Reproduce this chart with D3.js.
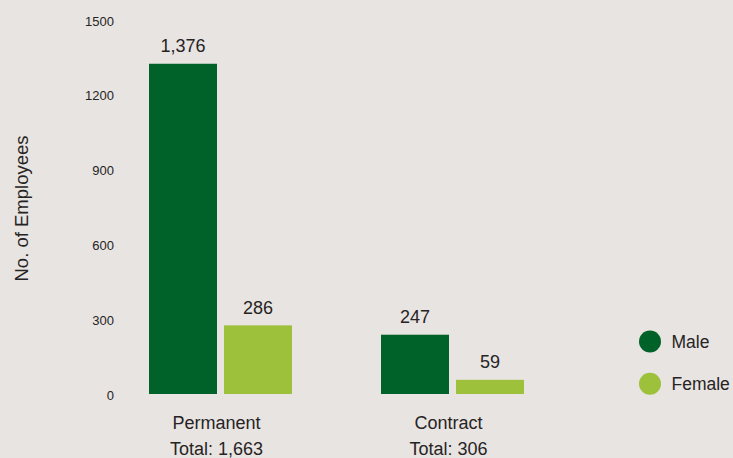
<!DOCTYPE html>
<html>
<head>
<meta charset="utf-8">
<script src="https://cdn.jsdelivr.net/npm/d3@7"></script>
<style>
  html, body { margin: 0; padding: 0; background: #e8e4e1; }
  svg { display: block; }
  text { font-family: "Liberation Sans", Arial, sans-serif; fill: #262324; }
</style>
</head>
<body>
<svg id="chart" width="733" height="458"></svg>
<script>
// Employees by type of employment and gender
const categories = ["Permanent", "Contract"];
const totals = ["1,663", "306"];
const genders = ["Male", "Female"];
const male = [1376, 247];
const female = [286, 59];
const yTicks = [0, 300, 600, 900, 1200, 1500];
const colors = ["#006229", "#9dc13b"];

const svg = d3.select("#chart");
const fmt = d3.format(",");

// Category bands and the bars inside each band
const x0 = d3.scaleBand().domain(categories).range([149, 524]).paddingInner(89 / 232);
const x1 = d3.scaleBand().domain(genders).range([0, x0.bandwidth()]).paddingInner(7 / 75);

// Bar heights and the axis labels
const yBar = d3.scaleLinear().domain([0, 1500]).range([394, 34]);
const yAxis = d3.scaleLinear().domain([0, 1500]).range([395, 21]);
const color = d3.scaleOrdinal().domain(genders).range(colors);

const rows = categories.map((c, i) => ({
  category: c,
  total: totals[i],
  values: [{ g: "Male", v: male[i] }, { g: "Female", v: female[i] }]
}));

// Y axis: labels only
const ax = svg.append("g")
  .attr("transform", "translate(114,0)")
  .call(d3.axisLeft(yAxis).tickValues(yTicks).tickSize(0).tickPadding(0).tickFormat(d3.format("d")));
ax.select(".domain").remove();
ax.selectAll("text")
  .style("font-family", "'Liberation Sans', Arial, sans-serif")
  .style("font-size", "13px")
  .attr("fill", "#262324");

svg.append("text")
  .attr("transform", "translate(28,208.5) rotate(-90)")
  .attr("text-anchor", "middle")
  .style("font-size", "18.5px")
  .text("No. of Employees");

// Bars
const groups = svg.selectAll("g.group").data(rows).join("g")
  .attr("class", "group")
  .attr("transform", d => `translate(${x0(d.category)},0)`);

groups.selectAll("rect").data(d => d.values).join("rect")
  .attr("x", d => x1(d.g))
  .attr("width", x1.bandwidth())
  .attr("y", d => yBar(d.v))
  .attr("height", d => yBar(0) - yBar(d.v))
  .attr("fill", d => color(d.g));

groups.selectAll("text.val").data(d => d.values).join("text")
  .attr("class", "val")
  .attr("x", d => x1(d.g) + x1.bandwidth() / 2)
  .attr("y", d => yBar(d.v) - 11.7)
  .attr("text-anchor", "middle")
  .style("font-size", "18px")
  .text(d => fmt(d.v));

// Category labels with totals
groups.append("text")
  .attr("x", x0.bandwidth() / 2 - 4)
  .attr("y", 428.5)
  .attr("text-anchor", "middle")
  .style("font-size", "18px")
  .text(d => d.category);

groups.append("text")
  .attr("x", x0.bandwidth() / 2 - 4)
  .attr("y", 455)
  .attr("text-anchor", "middle")
  .style("font-size", "18px")
  .text(d => "Total: " + d.total);

// Legend
const legend = svg.selectAll("g.legend").data(genders).join("g")
  .attr("class", "legend")
  .attr("transform", (d, i) => `translate(650,${341.5 + i * 42.2})`);
legend.append("circle").attr("r", 11).attr("fill", d => color(d));
legend.append("text")
  .attr("x", 21.5)
  .attr("y", 6)
  .style("font-size", "17.5px")
  .text(d => d);
</script>
</body>
</html>
